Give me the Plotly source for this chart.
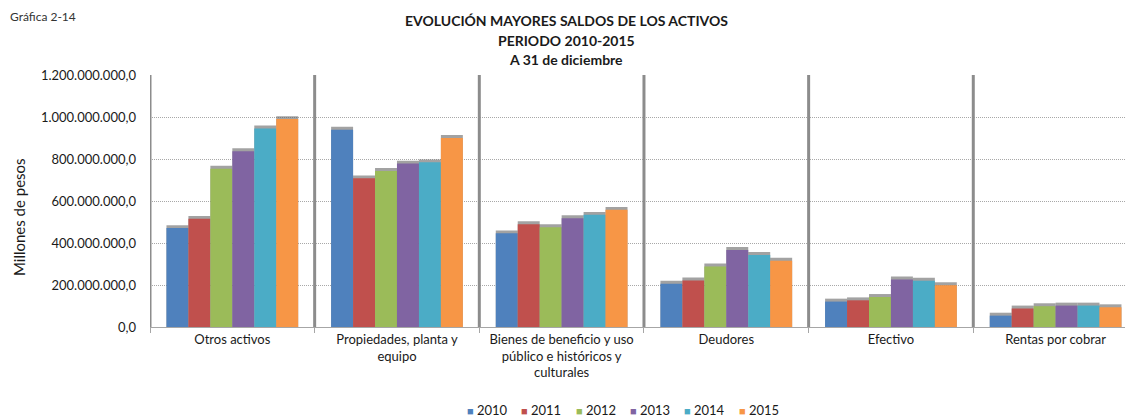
import plotly.graph_objects as go

# categorías y valores (millones de pesos)
categorias = [
    "Otros activos",
    "Propiedades, planta y<br>equipo",
    "Bienes de beneficio y uso<br>público e históricos y<br>culturales",
    "Deudores",
    "Efectivo",
    "Rentas por cobrar",
]
anios = ["2010", "2011", "2012", "2013", "2014", "2015"]

v2010 = [471e6, 939e6, 446e6, 206e6, 121e6, 54e6]
v2011 = [515e6, 708e6, 489e6, 222e6, 127e6, 88e6]
v2012 = [754e6, 743e6, 475e6, 288e6, 143e6, 99e6]
v2013 = [837e6, 778e6, 518e6, 367e6, 226e6, 102e6]
v2014 = [945e6, 784e6, 534e6, 343e6, 220e6, 102e6]
v2015 = [990e6, 900e6, 558e6, 316e6, 199e6, 94e6]

series = [v2010, v2011, v2012, v2013, v2014, v2015]
colores = ["#4F81BD", "#C0504D", "#9BBB59", "#8064A2", "#4BACC6", "#F79646"]

y_ticks = [0, 200e6, 400e6, 600e6, 800e6, 1000e6, 1200e6]

FONT = "Lato, 'Open Sans', sans-serif"
C_TXT = "#1a1a1a"
C_SEP = "#8c8c8c"

# la página deja 8 px de margen alrededor del gráfico
OFF = 8
W, H = 1133 - OFF, 418 - OFF
ML, MR, MT, MB = 150 - OFF, 0, 75 - OFF, 91


def px_to_paper(px, py):
    # coordenadas de ventana -> coordenadas "paper"
    fx, fy = px - OFF, py - OFF
    return (fx - ML) / (W - ML - MR), (H - MB - fy) / (H - MT - MB)


def note(text, px, py, size, xanchor="center", angle=0, color=C_TXT):
    ax, ay = px_to_paper(px, py)
    fig.add_annotation(text=text, xref="paper", yref="paper", x=ax, y=ay,
                       xanchor=xanchor, yanchor="middle", textangle=angle,
                       showarrow=False, font=dict(family=FONT, size=size, color=color))


fig = go.Figure()

for anio, vals, col in zip(anios, series, colores):
    # sombra gris sobre la barra (efecto de Excel)
    fig.add_trace(go.Bar(
        x=categorias, y=[v + 14e6 for v in vals], offsetgroup=anio,
        marker=dict(color="rgba(100,100,100,0.6)", line=dict(width=0)),
        showlegend=False, hoverinfo="skip",
    ))
    fig.add_trace(go.Bar(
        x=categorias, y=vals, name=anio, offsetgroup=anio,
        marker=dict(color=col, line=dict(width=0)),
        showlegend=False,
        hovertemplate=f"{anio}: %{{y:,.1f}}<extra></extra>",
    ))

# separadores verticales entre categorías
for i in range(len(categorias)):
    fig.add_shape(type="line", xref="x", yref="y",
                  x0=i - 0.5, x1=i - 0.5, y0=0, y1=y_ticks[-1],
                  line=dict(color=C_SEP, width=3), layer="above")

titulos = ["EVOLUCIÓN MAYORES SALDOS DE LOS ACTIVOS", "PERIODO 2010-2015", "A 31 de diciembre"]
for txt, py in zip(titulos, [20, 40, 59]):
    note(f"<b>{txt}</b>", 566, py, 14)

note("Gráfica 2-14", 8, 17, 12, xanchor="left", color="#333")
note("Millones de pesos", 19, 217, 15, angle=-90)

# leyenda (cuadro de color + año)
for i, (anio, col) in enumerate(zip(anios, colores)):
    note(f"<span style='color:{col};font-size:11px'>■</span> {anio}",
         465 + i * 54.3, 410, 13, xanchor="left")

fig.update_layout(
    width=W, height=H,
    margin=dict(l=ML, r=MR, t=MT, b=MB, autoexpand=False),
    paper_bgcolor="white", plot_bgcolor="white",
    font=dict(family=FONT, color=C_TXT),
    separators=",.",
    barmode="group", bargap=0.2, bargroupgap=0,
    showlegend=False,
)
fig.update_xaxes(
    range=[-0.5, 5.47], showgrid=False, automargin=False,
    showline=True, linecolor="#a6a6a6", linewidth=1,
    ticks="outside", tickson="boundaries", ticklen=5, tickcolor="#a6a6a6",
    tickfont=dict(size=13, color=C_TXT),
)
fig.update_yaxes(
    range=[0, y_ticks[-1]], tickvals=y_ticks, tickformat=",.1f", automargin=False,
    showgrid=True, gridcolor="#a8a8a8", griddash="1px,1px", gridwidth=1,
    zeroline=False, showline=False, ticks="",
    tickfont=dict(size=13, color=C_TXT), ticklabelstandoff=13,
)

fig.write_html("out.html")
